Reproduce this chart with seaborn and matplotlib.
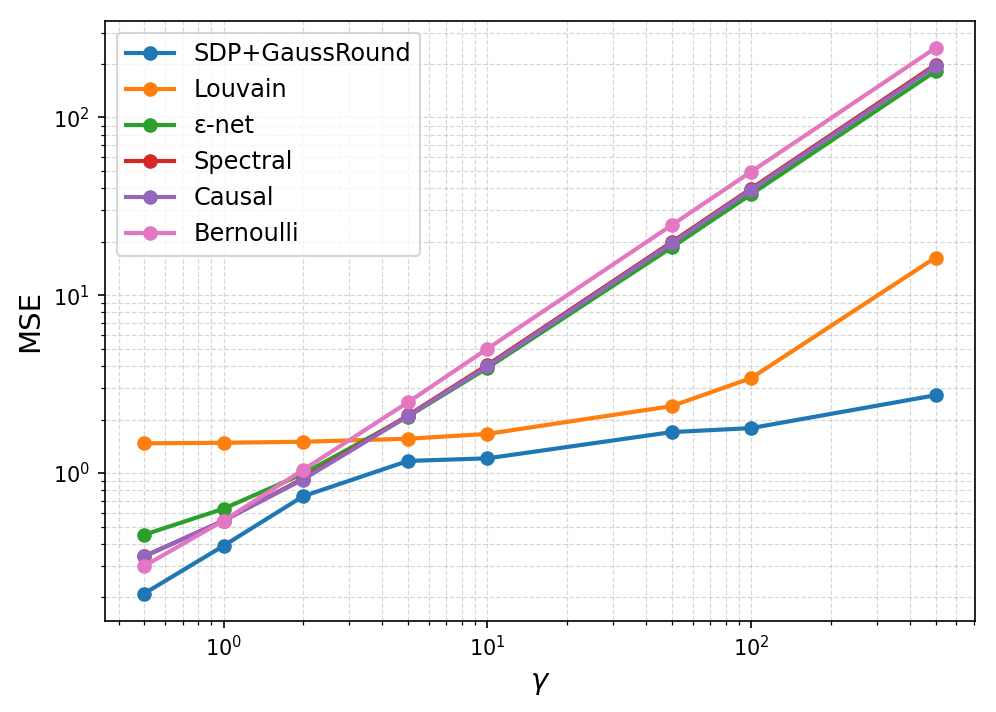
# mse_vs_gamma.py
# MSE of each clustering design against gamma, log-log.

import pandas as pd
import matplotlib
matplotlib.use("Agg")
import matplotlib.pyplot as plt
import seaborn as sns

gamma = [0.5, 1, 2, 5, 10, 50, 100, 500]

methods = ["SDP+GaussRound", "Louvain", "\u03b5-net", "Spectral", "Causal", "Bernoulli"]

mse_sdp = [0.21, 0.39, 0.74, 1.17, 1.21, 1.70, 1.79, 2.74]
mse_louvain = [1.47, 1.48, 1.50, 1.56, 1.66, 2.38, 3.42, 16.3]
mse_enet = [0.45, 0.63, 0.99, 2.08, 3.9, 18.6, 37.0, 182]
mse_spectral = [0.34, 0.54, 0.93, 2.11, 4.05, 19.9, 39.8, 198]
mse_causal = [0.34, 0.54, 0.92, 2.09, 3.98, 19.6, 39.2, 194]
mse_bernoulli = [0.30, 0.54, 1.04, 2.5, 5.0, 24.8, 49.5, 246]

series = [mse_sdp, mse_louvain, mse_enet, mse_spectral, mse_causal, mse_bernoulli]

rows = []
for name, vals in zip(methods, series):
    for g, v in zip(gamma, vals):
        rows.append({"gamma": g, "MSE": v, "Method": name})
df = pd.DataFrame(rows)

palette = ["#1f77b4", "#ff7f0e", "#2ca02c", "#d62728", "#9467bd", "#e377c2"]

fig, ax = plt.subplots(figsize=(6.64, 4.7467), dpi=150)
fig.subplots_adjust(left=0.105, right=0.979, top=0.971, bottom=0.128)

sns.lineplot(data=df, x="gamma", y="MSE", hue="Method", hue_order=methods,
             palette=palette, marker="o", markersize=7, markeredgewidth=0,
             linewidth=2, ax=ax)

ax.set_xscale("log")
ax.set_yscale("log")
ax.set_xlabel(r"$\gamma$", fontsize=14)
ax.set_ylabel("MSE", fontsize=14)
ax.grid(True, which="both", linestyle="--", linewidth=0.6, alpha=0.5)
ax.legend(loc="upper left", fontsize=11.5)

fig.savefig("out.png", dpi=150)
